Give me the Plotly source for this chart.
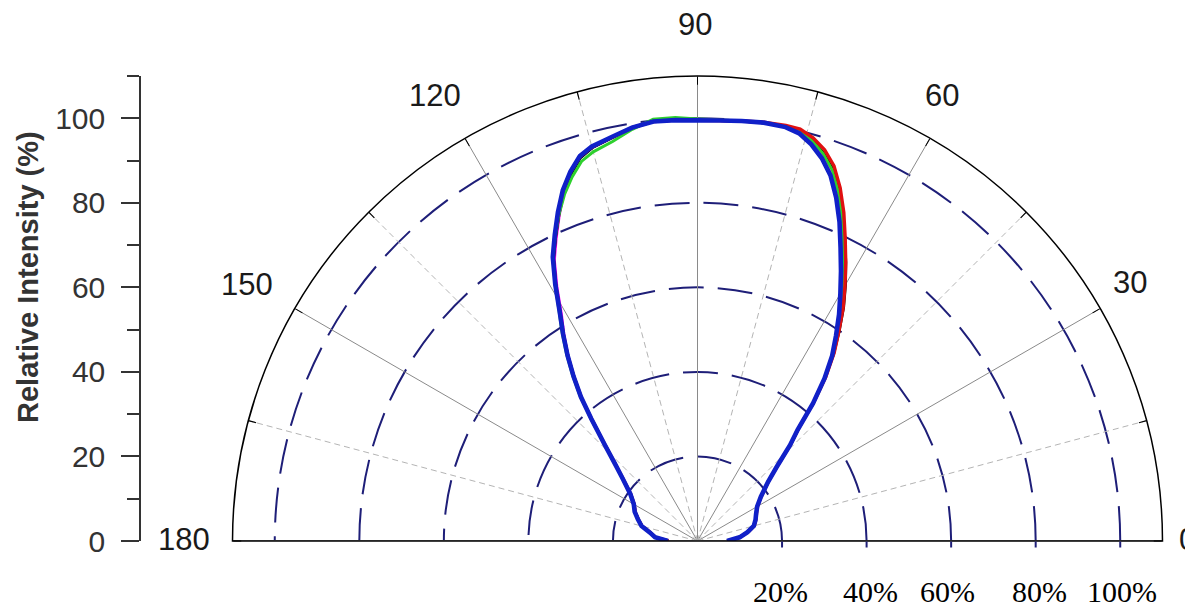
import plotly.graph_objects as go

# ---------------- data ----------------
theta = [0, 5, 10, 15, 20, 25, 30, 35, 40, 43, 46, 48, 50, 52, 54, 56, 58, 60, 62, 64,
         66, 68, 70, 72, 74, 76, 78, 81, 84, 87, 90, 93, 96, 99, 102, 105, 107, 109, 111, 113,
         115, 117, 119, 121, 123, 125, 127, 129, 131, 134, 137, 140, 145, 150, 155, 160, 165, 170, 175, 180]

r_blue = [7.0, 10.0, 12.0, 13.8, 14.6, 15.3, 16.3, 18.3, 21.8, 25.5, 31.5, 35.4, 42.5, 48.8, 54.2, 58.6, 63.2, 67.6, 72.3, 77.2,
          82.6, 87.6, 92.0, 95.2, 97.6, 99.4, 100.1, 100.2, 99.9, 99.6, 99.5, 99.7, 99.8, 99.0, 97.7, 96.6, 95.2, 92.4, 88.9, 84.5,
          79.9, 75.4, 69.4, 63.3, 58.4, 53.6, 48.7, 43.8, 38.3, 31.5, 26.6, 23.2, 19.4, 17.4, 16.4, 15.0, 13.7, 11.4, 10.1, 7.0]

r_red = [7.1, 10.1, 12.1, 13.9, 14.7, 15.4, 16.4, 18.4, 21.9, 25.6, 31.6, 35.6, 42.7, 49.3, 55.0, 59.8, 65.0, 69.8, 74.7, 79.7,
         85.1, 90.1, 94.4, 97.3, 99.2, 100.4, 100.5, 100.3, 99.9, 99.6, 99.5, 99.7, 99.8, 99.0, 97.6, 96.5, 95.1, 92.3, 88.8, 84.4,
         79.8, 75.3, 69.3, 63.2, 58.3, 53.5, 48.6, 43.7, 38.2, 31.4, 26.5, 23.1, 19.3, 17.3, 16.3, 14.9, 13.6, 11.3, 10.0, 6.9]

r_black = [7.0, 10.0, 12.0, 13.8, 14.6, 15.3, 16.3, 18.3, 21.8, 25.5, 31.5, 35.5, 42.6, 49.0, 54.8, 59.9, 65.2, 70.0, 74.7, 79.4,
           84.6, 89.4, 93.6, 96.5, 98.6, 100.0, 100.3, 100.2, 99.9, 99.6, 99.5, 99.7, 99.8, 98.9, 97.5, 96.3, 94.8, 91.8, 88.3, 83.9,
           79.4, 75.0, 69.1, 63.1, 58.3, 53.5, 48.6, 43.7, 38.2, 31.4, 26.5, 23.1, 19.3, 17.3, 16.3, 14.9, 13.6, 11.3, 10.0, 6.9]

r_green = [7.0, 10.0, 12.0, 13.8, 14.6, 15.3, 16.3, 18.3, 21.8, 25.5, 31.5, 35.4, 42.5, 48.9, 54.5, 59.3, 64.4, 69.0, 73.7, 78.6,
           84.0, 89.0, 93.3, 96.3, 98.5, 99.9, 100.2, 100.2, 99.9, 99.7, 99.8, 100.3, 100.3, 98.6, 96.6, 95.3, 93.9, 91.1, 87.8, 83.9,
           79.6, 75.3, 69.5, 63.6, 58.8, 54.0, 49.1, 44.1, 38.5, 31.6, 26.7, 23.2, 19.4, 17.4, 16.4, 15.0, 13.7, 11.4, 10.1, 7.0]

r_magenta = [7.0, 10.0, 12.0, 13.8, 14.6, 15.3, 16.3, 18.3, 21.8, 25.5, 31.5, 35.4, 42.5, 48.8, 54.3, 58.9, 63.7, 68.3, 73.0, 77.9,
             83.2, 88.1, 92.4, 95.5, 97.8, 99.5, 100.1, 100.2, 99.9, 99.6, 99.5, 99.7, 99.8, 99.0, 97.6, 96.4, 95.0, 92.1, 88.4, 83.7,
             79.1, 74.6, 68.6, 62.5, 58.0, 53.4, 48.6, 43.7, 38.2, 31.4, 26.5, 23.1, 19.3, 17.3, 16.3, 14.9, 13.6, 11.3, 10.0, 6.9]

radial_ticks = [20, 40, 60, 80, 100]
radial_labels = ["20%", "40%", "60%", "80%", "100%"]
angle_ticks = [0, 30, 60, 90, 120, 150, 180]
angle_labels = ["0", "30", "60", "90", "120", "150", "180"]
minor_angles = [15, 45, 75, 105, 135, 165]
y_ticks = [0, 20, 40, 60, 80, 100]
y_title = "Relative Intensity (%)"

# ---------------- style / layout ----------------
W, H = 1193, 606
R_MAX = 110
FONT = "Liberation Sans, Arial, sans-serif"
SERIF = "Liberation Serif, Times New Roman, serif"
NAVY = "#1e1e78"
GRID = "#8a8a8a"
LIGHT = "#b4b4b4"

# page offset / effective plot height observed in the viewer (empirical calibration)
X_OFF, Y_OFF, GS_H = 8.0, 8.0, 590.0


def xf(px):
    return (px - X_OFF) / W


def yf(py):
    return 1 - (py - Y_OFF) / GS_H


CX, CY, RPX = 697.5, 541.0, 465.0          # polar centre / outer radius (target px)
polar_dom_x = [xf(CX - RPX - 12), xf(CX + RPX + 12)]
polar_dom_y = [yf(CY), yf(CY - RPX)]

# target pixel centres of the angle labels
ANG_POS = [(1187, 539), (1130, 282), (942, 96), (695, 25), (435, 96), (247, 284), (184, 539)]
# target pixel centres of the percent labels
PCT_X = [780, 870, 948, 1039, 1122]
PCT_Y = 591
AXIS_X = 141

fig = go.Figure()

# solid angular grid lines
g_r, g_t = [], []
for a in angle_ticks[1:-1]:
    g_r += [0, R_MAX, None]
    g_t += [a, a, None]
fig.add_trace(go.Scatterpolar(r=g_r, theta=g_t, mode="lines",
                              line=dict(color=GRID, width=1), hoverinfo="skip", showlegend=False))
# baseline (0 and 180)
fig.add_trace(go.Scatterpolar(r=[R_MAX, 0, R_MAX], theta=[0, 0, 180], mode="lines",
                              line=dict(color="#9a9a9a", width=2), hoverinfo="skip", showlegend=False))
# dashed light grid lines at 15-degree offsets + short ticks on the rim
d_r, d_t, k_r, k_t = [], [], [], []
for a in minor_angles:
    d_r += [0, R_MAX, None]
    d_t += [a, a, None]
    k_r += [R_MAX - 1.9, R_MAX, None]
    k_t += [a, a, None]
fig.add_trace(go.Scatterpolar(r=d_r, theta=d_t, mode="lines",
                              line=dict(color=LIGHT, width=1, dash="6px,4px"), hoverinfo="skip", showlegend=False))
fig.add_trace(go.Scatterpolar(r=k_r, theta=k_t, mode="lines",
                              line=dict(color="black", width=1.2), hoverinfo="skip", showlegend=False))

# curves
series = [
    ("magenta", r_magenta, "#ff00ff", 3),
    ("black", r_black, "#000000", 3),
    ("green", r_green, "#2ed02e", 3),
    ("red", r_red, "#e01010", 3.4),
    ("blue", r_blue, "#1020c8", 4.6),
]
for name, rr, col, w in series:
    fig.add_trace(go.Scatterpolar(r=rr, theta=theta, mode="lines", name=name,
                                  line=dict(color=col, width=w), showlegend=False))

# invisible trace to activate the left cartesian axis
fig.add_trace(go.Scatter(x=[0], y=[0], mode="markers", marker=dict(opacity=0),
                         hoverinfo="skip", showlegend=False, xaxis="x", yaxis="y"))

annotations = [
    dict(text=y_title, x=xf(28), y=yf(277), xref="paper", yref="paper",
         textangle=-90, showarrow=False, xanchor="center", yanchor="middle",
         font=dict(family=FONT, size=29, color="#333333", weight="bold")),
]
for lbl, (px, py) in zip(angle_labels, ANG_POS):
    annotations.append(dict(text=lbl, x=xf(px), y=yf(py), xref="paper", yref="paper",
                            showarrow=False, xanchor="center", yanchor="middle",
                            font=dict(family=FONT, size=31, color="#1a1a1a")))
for lbl, px in zip(radial_labels, PCT_X):
    annotations.append(dict(text=lbl, x=xf(px), y=yf(PCT_Y), xref="paper", yref="paper",
                            showarrow=False, xanchor="center", yanchor="middle",
                            font=dict(family=SERIF, size=30, color="black")))

fig.update_layout(
    width=W, height=H,
    margin=dict(l=0, r=0, t=0, b=0),
    paper_bgcolor="white", plot_bgcolor="white",
    showlegend=False,
    polar=dict(
        domain=dict(x=polar_dom_x, y=polar_dom_y),
        sector=[0, 180],
        bgcolor="white",
        radialaxis=dict(range=[0, R_MAX], tickvals=radial_ticks, showticklabels=False,
                        showgrid=True, gridcolor=NAVY, gridwidth=1.6, griddash="35px,14px",
                        showline=False, ticks="outside", ticklen=6, tickcolor=NAVY, tickwidth=1.5,
                        side="clockwise", angle=0),
        angularaxis=dict(direction="counterclockwise", rotation=0,
                         tickvals=angle_ticks, showticklabels=False, showgrid=False,
                         ticks="inside", ticklen=8, tickcolor="black", tickwidth=1.2,
                         showline=True, linecolor="black", linewidth=1.5),
    ),
    xaxis=dict(domain=[xf(AXIS_X), xf(AXIS_X + 1)], visible=False, range=[0, 1], fixedrange=True),
    yaxis=dict(domain=polar_dom_y, range=[0, R_MAX], anchor="x", side="left",
               tickvals=y_ticks, ticks="outside", ticklen=18, tickwidth=1.5, tickcolor="#333333",
               minor=dict(ticks="outside", ticklen=12, dtick=10, tick0=0, tickcolor="#333333", tickwidth=1.5),
               showline=True, linecolor="#333333", linewidth=1.5, showgrid=False, zeroline=False,
               tickfont=dict(family=FONT, size=30, color="#333333"), ticklabelstandoff=10),
    annotations=annotations,
)

fig.write_html("out.html")
